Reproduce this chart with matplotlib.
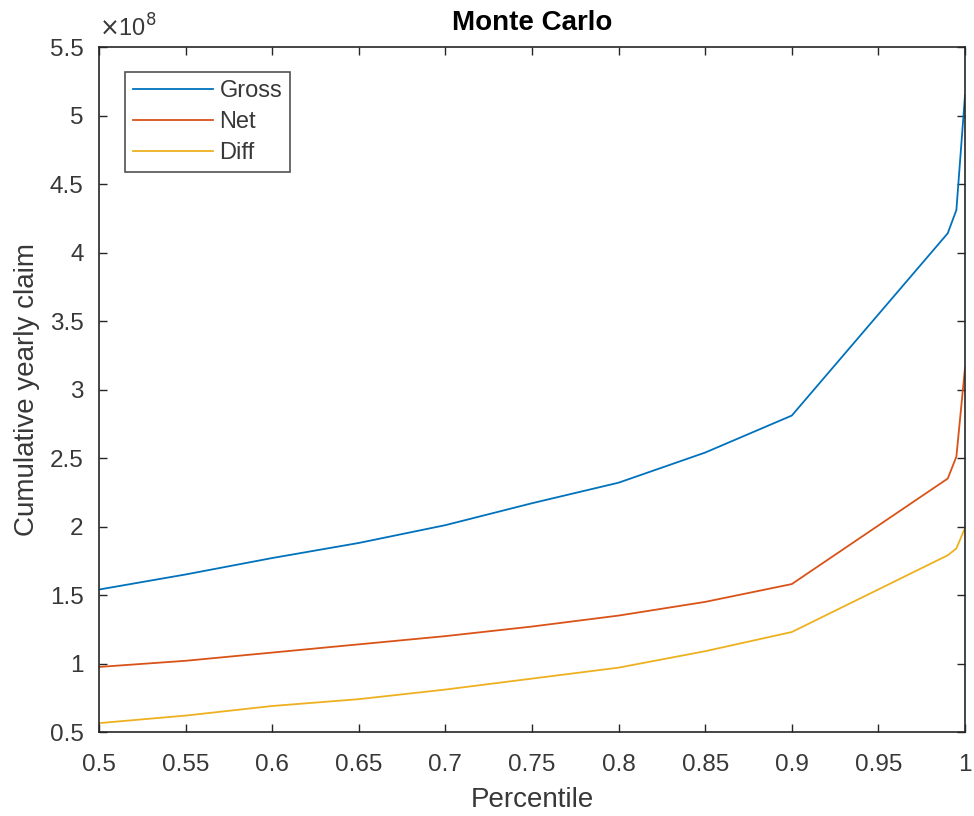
import matplotlib.pyplot as plt
from matplotlib.ticker import FuncFormatter

# percentiles and claims (in units of 1e8)
percentile = [0.5, 0.55, 0.6, 0.65, 0.7, 0.75, 0.8, 0.85, 0.9, 0.99, 0.995, 1.0]
gross = [1.54, 1.65, 1.77, 1.88, 2.01, 2.17, 2.32, 2.54, 2.81, 4.14, 4.31, 5.15]
net = [0.975, 1.02, 1.08, 1.14, 1.20, 1.27, 1.35, 1.45, 1.58, 2.35, 2.51, 3.16]
diff = [0.565, 0.62, 0.69, 0.74, 0.81, 0.89, 0.97, 1.09, 1.23, 1.79, 1.84, 1.99]

xticks = [0.5, 0.55, 0.6, 0.65, 0.7, 0.75, 0.8, 0.85, 0.9, 0.95, 1.0]
yticks = [0.5, 1, 1.5, 2, 2.5, 3, 3.5, 4, 4.5, 5, 5.5]


def main():
    plt.rcParams['font.family'] = ['Liberation Sans', 'DejaVu Sans']
    axcol = '#262626'
    txtcol = '#383838'

    fig = plt.figure(figsize=(9.74, 8.16), dpi=100)
    ax = fig.add_axes([0.1016, 0.1029, 0.8892, 0.8395])

    ax.plot(percentile, gross, color='#0072BD', lw=1.3, label='Gross')
    ax.plot(percentile, net, color='#D95319', lw=1.3, label='Net')
    ax.plot(percentile, diff, color='#EDB120', lw=1.3, label='Diff')

    ax.set_xlim(0.5, 1.0)
    ax.set_ylim(0.5, 5.5)
    ax.set_xticks(xticks)
    ax.set_yticks(yticks)
    fmt = FuncFormatter(lambda v, p: '%g' % v)
    ax.xaxis.set_major_formatter(fmt)
    ax.yaxis.set_major_formatter(fmt)

    ax.tick_params(direction='in', length=6, width=1, top=True, right=True,
                   color=axcol, labelcolor=txtcol, labelsize=17.5)
    ax.tick_params(axis='x', pad=16)
    ax.tick_params(axis='y', pad=11)
    for s in ax.spines.values():
        s.set_color(axcol)
        s.set_linewidth(1.2)

    ax.set_title('Monte Carlo', fontsize=20, fontweight='bold', pad=12)
    ax.set_xlabel('Percentile', fontsize=20, color=txtcol, labelpad=8)
    ax.set_ylabel('Cumulative yearly claim', fontsize=20, color=txtcol, labelpad=7)
    ax.text(0.0, 1.008, r'$\times$10$^{8}$', transform=ax.transAxes,
            fontsize=17, color=txtcol, ha='left', va='bottom')

    leg = ax.legend(loc='upper left', bbox_to_anchor=(0.03, 0.9635), fontsize=17,
                    frameon=True, fancybox=False, handlelength=3.4,
                    handletextpad=0.25, borderpad=0.35, labelspacing=0.38,
                    borderaxespad=0)
    leg.get_frame().set_edgecolor(axcol)
    leg.get_frame().set_linewidth(1.2)
    for t in leg.get_texts():
        t.set_color(txtcol)

    fig.savefig('out.png', dpi=100)


if __name__ == "__main__":
    main()
